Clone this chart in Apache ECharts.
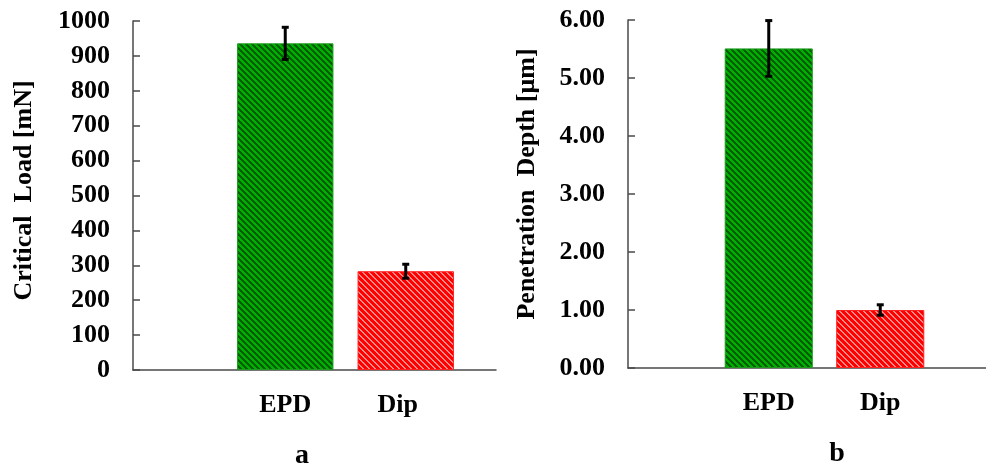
<!DOCTYPE html>
<html>
<head>
<meta charset="utf-8">
<script src="https://cdn.jsdelivr.net/npm/echarts@6/dist/echarts.min.js"></script>
<style>
  html, body { margin: 0; padding: 0; background: #fff; }
  #chart { width: 986px; height: 468px; }
</style>
</head>
<body>
<div id="chart"></div>
<script>
// Coating comparison: scratch-test critical load (a) and penetration depth (b)
const categories = ['EPD', 'Dip'];
const criticalLoad = [936, 283];
const criticalLoadErr = [46, 20];
const penetrationDepth = [5.51, 1.00];
const penetrationDepthErr = [0.48, 0.09];
const loadAxis = { min: 0, max: 1000, interval: 100 };
const depthAxis = { min: 0, max: 6, interval: 1 };
const panelLabels = ['a', 'b'];

const FONT = '"Liberation Serif", "Times New Roman", serif';
const AXIS_COLOR = '#4a4a4a';

// Diagonal hatch tile used as a bar fill
function hatch(base, stripe, period, width) {
  const c = document.createElement('canvas');
  c.width = period; c.height = period;
  const ctx = c.getContext('2d');
  ctx.fillStyle = base;
  ctx.fillRect(0, 0, period, period);
  ctx.fillStyle = stripe;
  for (let y = 0; y < period; y++) {
    for (let x = 0; x < period; x++) {
      if ((((x - y) % period) + period) % period < width) ctx.fillRect(x, y, 1, 1);
    }
  }
  return { image: c, repeat: 'repeat' };
}
const greenFill = hatch('#005f00', '#00b000', 6, 3);
const redFill = hatch('#ff0000', '#ff8a8a', 6, 2);
const barStyles = [
  { color: greenFill, borderColor: '#1f9a1f', borderWidth: 1 },
  { color: redFill, borderColor: '#ff2020', borderWidth: 1 }
];

function errorRender(params, api) {
  const i = api.value(0);
  const v = api.value(1);
  const e = api.value(2);
  const top = api.coord([i, v + e]);
  const bot = api.coord([i, v - e]);
  const capW = 3.5;
  const style = { stroke: '#000', lineWidth: 3 };
  return {
    type: 'group',
    children: [
      { type: 'line', shape: { x1: top[0], y1: top[1], x2: bot[0], y2: bot[1] }, style },
      { type: 'line', shape: { x1: top[0] - capW, y1: top[1], x2: top[0] + capW, y2: top[1] }, style },
      { type: 'line', shape: { x1: bot[0] - capW, y1: bot[1], x2: bot[0] + capW, y2: bot[1] }, style }
    ]
  };
}

const tickLabel = { color: '#000', fontFamily: FONT, fontWeight: 'bold', fontSize: 26 };

const chart = echarts.init(document.getElementById('chart'), null, { renderer: 'canvas' });

// Each panel: a frame grid (axis lines, y ticks) and a bar grid (categories)
const grids = [
  { left: 133, top: 21, width: 363, height: 349 },
  { left: 225, top: 21, width: 241, height: 349 },
  { left: 628, top: 20, width: 370, height: 348 },
  { left: 713, top: 20, width: 223, height: 348 }
];

function frameX(gridIndex) {
  return {
    type: 'value', gridIndex, min: 0, max: 1,
    axisLine: { show: true, lineStyle: { color: AXIS_COLOR, width: 1.5 } },
    axisTick: { show: false }, axisLabel: { show: false }, splitLine: { show: false }
  };
}
function barX(gridIndex, labelPads) {
  return {
    type: 'category', gridIndex,
    data: categories.map((c, i) => ({ value: c, textStyle: { padding: labelPads[i] } })),
    axisLine: { show: false }, axisTick: { show: false },
    axisLabel: Object.assign({ margin: 22 }, tickLabel)
  };
}
function frameY(gridIndex, range, name, nameGap, namePad, fmt) {
  return {
    type: 'value', gridIndex, min: range.min, max: range.max, interval: range.interval,
    name, nameLocation: 'middle', nameGap,
    nameTextStyle: { color: '#000', fontFamily: FONT, fontWeight: 'bold', fontSize: 26, padding: namePad },
    axisLine: { show: true, lineStyle: { color: AXIS_COLOR, width: 1.5 } },
    axisTick: { show: true, inside: true, length: 7, lineStyle: { color: AXIS_COLOR, width: 1.5 } },
    axisLabel: Object.assign({ margin: 23, formatter: fmt }, tickLabel),
    splitLine: { show: false }
  };
}
function barY(gridIndex, range) {
  return { type: 'value', gridIndex, min: range.min, max: range.max, show: false, splitLine: { show: false } };
}

chart.setOption({
  animation: false,
  backgroundColor: '#fff',
  grid: grids,
  xAxis: [
    frameX(0),
    barX(1, [[0, 0, 0, 0], [0, 16, 0, 0]]),
    frameX(2),
    barX(3, [[0, 0, 0, 0], [0, 0, 0, 0]])
  ],
  yAxis: [
    frameY(0, loadAxis, 'Critical  Load [mN]', 96, [0, 0, 0, 10], v => String(v)),
    barY(1, loadAxis),
    frameY(2, depthAxis, 'Penetration  Depth [μm]', 88, [0, 0, 0, 20], v => v.toFixed(2)),
    barY(3, depthAxis)
  ],
  series: [
    {
      type: 'bar', xAxisIndex: 1, yAxisIndex: 1, barWidth: '80%',
      data: criticalLoad.map((v, i) => ({ value: v, itemStyle: barStyles[i] }))
    },
    {
      type: 'custom', xAxisIndex: 1, yAxisIndex: 1, renderItem: errorRender, z: 5,
      data: criticalLoad.map((v, i) => [i, v, criticalLoadErr[i]])
    },
    {
      type: 'bar', xAxisIndex: 3, yAxisIndex: 3, barWidth: '79%',
      data: penetrationDepth.map((v, i) => ({ value: v, itemStyle: barStyles[i] }))
    },
    {
      type: 'custom', xAxisIndex: 3, yAxisIndex: 3, renderItem: errorRender, z: 5,
      data: penetrationDepth.map((v, i) => [i, v, penetrationDepthErr[i]])
    }
  ],
  graphic: [
    { type: 'text', x: 302, y: 456, style: { text: panelLabels[0], fontFamily: FONT, fontWeight: 'bold', fontSize: 28, fill: '#000', align: 'center', verticalAlign: 'middle' } },
    { type: 'text', x: 837, y: 454, style: { text: panelLabels[1], fontFamily: FONT, fontWeight: 'bold', fontSize: 28, fill: '#000', align: 'center', verticalAlign: 'middle' } }
  ]
});
</script>
</body>
</html>
